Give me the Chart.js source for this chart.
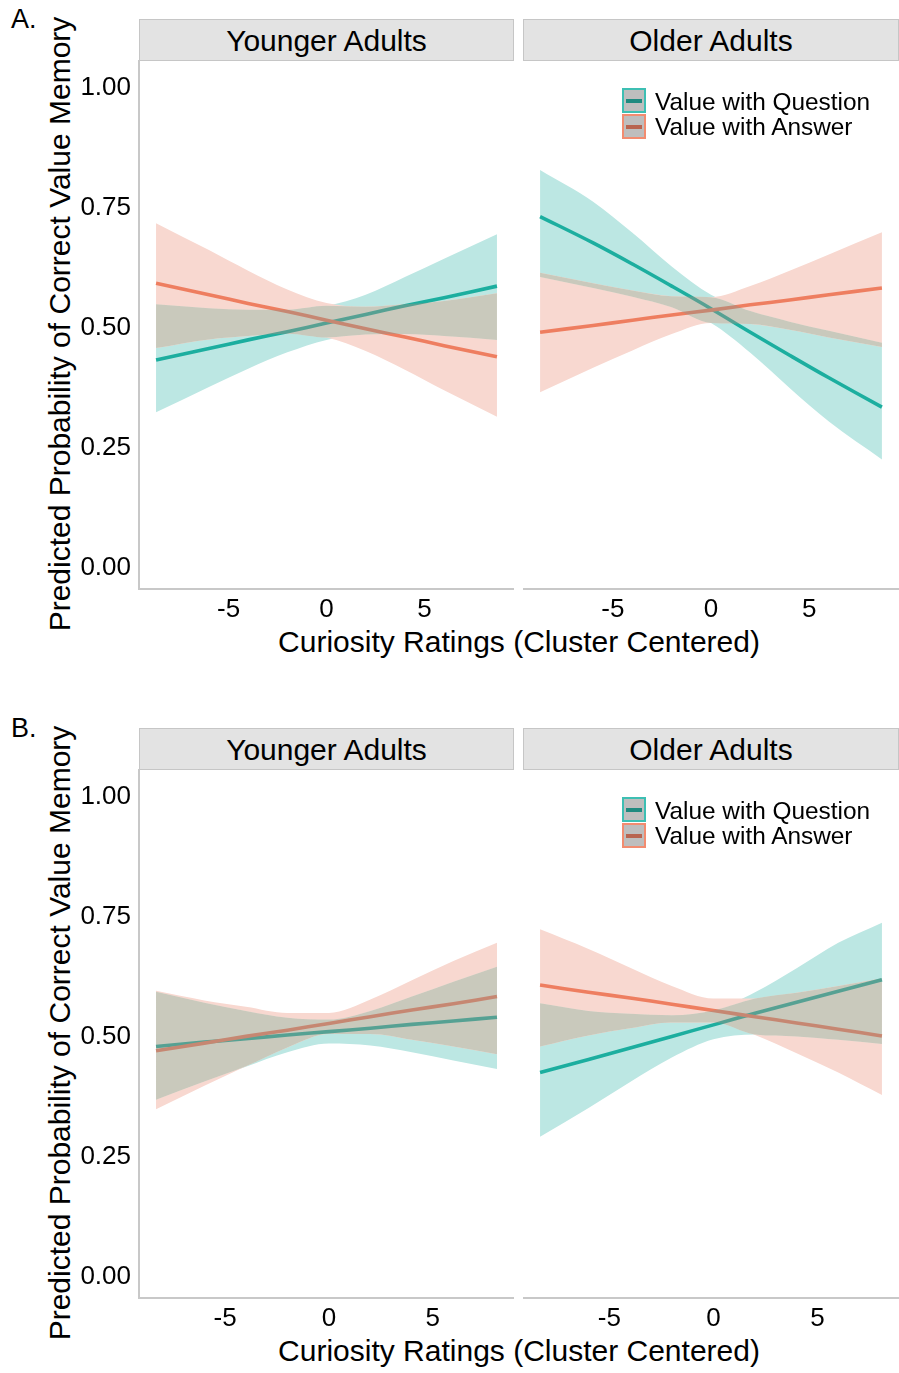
<!DOCTYPE html>
<html>
<head>
<meta charset="utf-8">
<title>Predicted probability of correct value memory by curiosity</title>
<script src="https://cdn.jsdelivr.net/npm/chart.js@4.4.1/dist/chart.umd.min.js"></script>
<style>
  html, body { margin: 0; padding: 0; background: #fff; }
  body { position: relative; width: 899px; height: 1373px; overflow: hidden;
         font-family: 'Liberation Sans', Arial, Helvetica, sans-serif; color: #000; }
  .abs { position: absolute; white-space: nowrap; }
  .letter { font-size: 27px; line-height: 27px; }
  .strip { position: absolute; background: #e3e3e3; border: 1px solid #c6c6c6; box-sizing: border-box; height: 42px; }
  .strip span { position: absolute; left: 0; right: 0; top: 6px; text-align: center; font-size: 30px; line-height: 30px; }
  .ytitle { width: 700px; height: 30px; font-size: 30px; line-height: 30px; text-align: center; transform: rotate(-90deg); }
  .xtitle { width: 760px; font-size: 30px; line-height: 30px; text-align: center; }
  .key { position: absolute; width: 24px; height: 25px; box-sizing: border-box; background: #bebebe; border: 2px solid; }
  .key i { position: absolute; left: 2px; right: 2px; top: 8.5px; height: 4px; }
  .ltext { font-size: 24.4px; line-height: 24px; }
  canvas { position: absolute; }
</style>
</head>
<body>

<!-- panel A -->
<div class="abs letter" style="left:11px;top:6px;">A.</div>
<div class="strip" style="left:139px;top:19px;width:375px;"><span>Younger Adults</span></div>
<div class="strip" style="left:523px;top:19px;width:376px;"><span>Older Adults</span></div>
<div class="abs ytitle" style="left:-290px;top:309px;">Predicted Probability of Correct Value Memory</div>
<div class="abs xtitle" style="left:139px;top:627px;">Curiosity Ratings (Cluster Centered)</div>
<canvas id="youngA" width="514" height="588" style="left:0;top:41px;"></canvas>
<canvas id="olderA" width="376" height="588" style="left:523px;top:41px;"></canvas>
<div class="key" style="left:622px;top:88px;border-color:#3dbfb3;"><i style="background:#1f8a80;"></i></div>
<div class="key" style="left:622px;top:114px;border-color:#f28c70;"><i style="background:#b86450;"></i></div>
<div class="abs ltext" style="left:655px;top:90px;">Value with Question</div>
<div class="abs ltext" style="left:655px;top:115px;">Value with Answer</div>

<!-- panel B -->
<div class="abs letter" style="left:11px;top:715px;">B.</div>
<div class="strip" style="left:139px;top:728px;width:375px;"><span>Younger Adults</span></div>
<div class="strip" style="left:523px;top:728px;width:376px;"><span>Older Adults</span></div>
<div class="abs ytitle" style="left:-290px;top:1018px;">Predicted Probability of Correct Value Memory</div>
<div class="abs xtitle" style="left:139px;top:1336px;">Curiosity Ratings (Cluster Centered)</div>
<canvas id="youngB" width="514" height="588" style="left:0;top:750px;"></canvas>
<canvas id="olderB" width="376" height="588" style="left:523px;top:750px;"></canvas>
<div class="key" style="left:622px;top:797px;border-color:#3dbfb3;"><i style="background:#1f8a80;"></i></div>
<div class="key" style="left:622px;top:823px;border-color:#f28c70;"><i style="background:#b86450;"></i></div>
<div class="abs ltext" style="left:655px;top:799px;">Value with Question</div>
<div class="abs ltext" style="left:655px;top:824px;">Value with Answer</div>

<script>
// Curiosity rating grid (cluster centered) at which predictions are given
const curiosityA = [-8.7, -6, -4, -2, 0, 2, 4, 6, 8.7];
const curiosityB = [-8.33, -6, -4, -2, 0, 2, 4, 6, 8.1];

// Axis ticks
const xTicks = [-5, 0, 5];
const yTicks = [0, 0.25, 0.5, 0.75, 1];

// Panel A, younger adults: value with question (Q) and value with answer (A), fit and 95% band
const youngA_Q   = [0.432, 0.456, 0.474, 0.491, 0.509, 0.527, 0.545, 0.562, 0.586];
const youngA_Qlo = [0.323, 0.376, 0.414, 0.448, 0.474, 0.485, 0.486, 0.482, 0.474];
const youngA_Qhi = [0.548, 0.540, 0.537, 0.537, 0.545, 0.568, 0.605, 0.643, 0.694];
const youngA_A   = [0.592, 0.568, 0.550, 0.533, 0.515, 0.497, 0.480, 0.462, 0.439];
const youngA_Alo = [0.457, 0.475, 0.482, 0.487, 0.479, 0.451, 0.412, 0.369, 0.314];
const youngA_Ahi = [0.717, 0.661, 0.618, 0.579, 0.551, 0.543, 0.548, 0.555, 0.571];

// Panel A, older adults
const olderA_Q   = [0.731, 0.676, 0.632, 0.586, 0.539, 0.490, 0.442, 0.395, 0.334];
const olderA_Qlo = [0.605, 0.582, 0.564, 0.542, 0.509, 0.447, 0.374, 0.304, 0.225];
const olderA_Qhi = [0.828, 0.762, 0.697, 0.627, 0.568, 0.534, 0.512, 0.493, 0.468];
const olderA_A   = [0.490, 0.504, 0.515, 0.526, 0.536, 0.547, 0.557, 0.568, 0.582];
const olderA_Alo = [0.365, 0.416, 0.452, 0.486, 0.509, 0.507, 0.495, 0.479, 0.459];
const olderA_Ahi = [0.614, 0.592, 0.577, 0.565, 0.563, 0.586, 0.618, 0.652, 0.698];

// Panel B, younger adults
const youngB_Q   = [0.479, 0.488, 0.495, 0.503, 0.510, 0.517, 0.525, 0.532, 0.540];
const youngB_Qlo = [0.368, 0.406, 0.437, 0.467, 0.485, 0.481, 0.467, 0.450, 0.432];
const youngB_Qhi = [0.593, 0.570, 0.553, 0.539, 0.535, 0.553, 0.583, 0.614, 0.645];
const youngB_A   = [0.470, 0.486, 0.500, 0.513, 0.527, 0.541, 0.555, 0.568, 0.583];
const youngB_Alo = [0.348, 0.397, 0.438, 0.477, 0.505, 0.505, 0.493, 0.479, 0.463];
const youngB_Ahi = [0.595, 0.575, 0.562, 0.549, 0.549, 0.577, 0.617, 0.657, 0.695];

// Panel B, older adults
const olderB_Q   = [0.425, 0.452, 0.476, 0.500, 0.524, 0.548, 0.571, 0.594, 0.618];
const olderB_Qlo = [0.291, 0.351, 0.405, 0.456, 0.494, 0.504, 0.500, 0.493, 0.484];
const olderB_Qhi = [0.569, 0.553, 0.547, 0.544, 0.554, 0.592, 0.642, 0.695, 0.737];
const olderB_A   = [0.607, 0.592, 0.580, 0.567, 0.554, 0.541, 0.528, 0.515, 0.501];
const olderB_Alo = [0.479, 0.502, 0.517, 0.529, 0.529, 0.503, 0.465, 0.425, 0.378];
const olderB_Ahi = [0.723, 0.682, 0.643, 0.605, 0.579, 0.579, 0.591, 0.605, 0.621];

// Colours
const LINE_Q = '#1cae9f';
const LINE_A = '#ee7e60';
const BAND_Q = '#bce7e3';
const BAND_A = '#f8d8d0';
const BAND_BASE = '#f4f9ed';
const BAND_SHARED = 'rgba(152,146,134,0.47)';
const AXIS_LINE = '#c8c8c8';

Chart.defaults.font.family = "'Liberation Sans', Arial, Helvetica, sans-serif";
Chart.defaults.color = '#000';

function facet(canvasId, xs, q, qLo, qHi, a, aLo, aHi, xMin, xMax, showY) {
  const pts = ys => xs.map((x, i) => ({ x: x, y: ys[i] }));
  // region where both confidence bands overlap
  const bothLo = qLo.map((v, i) => Math.max(v, aLo[i]));
  const bothHi = qHi.map((v, i) => Math.min(v, aHi[i]));
  const edge = { borderWidth: 0, borderColor: 'rgba(0,0,0,0)', pointRadius: 0,
                 cubicInterpolationMode: 'monotone', fill: false };
  const fit = { borderWidth: 3.6, pointRadius: 0, tension: 0.35,
                fill: false, borderCapStyle: 'butt', borderJoinStyle: 'round' };
  const datasets = [
    { ...edge, label: 'qLo', data: pts(qLo) },
    { ...edge, label: 'qHi', data: pts(qHi), fill: '-1', backgroundColor: BAND_Q },
    { ...edge, label: 'aLo', data: pts(aLo) },
    { ...edge, label: 'aHi', data: pts(aHi), fill: '-1', backgroundColor: BAND_A },
    { ...edge, label: 'bothLo', data: pts(bothLo) },
    { ...edge, label: 'bothHi', data: pts(bothHi), fill: '-1', backgroundColor: BAND_BASE },
    { ...fit, label: 'Value with Question', data: pts(q), borderColor: LINE_Q },
    { ...fit, label: 'Value with Answer', data: pts(a), borderColor: LINE_A },
    { ...edge, label: 'sharedLo', data: pts(bothLo) },
    { ...edge, label: 'sharedHi', data: pts(bothHi), fill: '-1', backgroundColor: BAND_SHARED }
  ];
  // earlier entries are painted first
  datasets.forEach((d, i) => { d.order = 100 - i; });

  return new Chart(document.getElementById(canvasId), {
    type: 'line',
    data: { datasets: datasets },
    options: {
      responsive: false,
      animation: false,
      devicePixelRatio: 1,
      events: [],
      layout: { padding: { top: 20, left: 0, right: 0, bottom: 0 } },
      plugins: { legend: { display: false }, tooltip: { enabled: false } },
      scales: {
        x: {
          type: 'linear', min: xMin, max: xMax,
          grid: { display: false, drawTicks: false },
          border: { display: true, color: AXIS_LINE, width: 2 },
          ticks: { padding: 5, font: { size: 26 }, color: '#000',
                   callback: v => String(v) },
          afterBuildTicks: s => { s.ticks = xTicks.map(v => ({ value: v })); },
          afterFit: s => { s.height = 40; s.paddingLeft = 0; s.paddingRight = 0; }
        },
        y: {
          type: 'linear', min: -0.045, max: 1.055, display: showY,
          grid: { display: false, drawTicks: false },
          border: { display: showY, color: AXIS_LINE, width: 2 },
          ticks: { display: showY, padding: 8, font: { size: 26 }, color: '#000',
                   callback: v => Number(v).toFixed(2) },
          afterBuildTicks: s => { s.ticks = yTicks.map(v => ({ value: v })); },
          afterFit: s => { s.width = showY ? 139 : 0; s.paddingTop = 0; s.paddingBottom = 0; }
        }
      }
    }
  });
}

facet('youngA', curiosityA, youngA_Q, youngA_Qlo, youngA_Qhi, youngA_A, youngA_Alo, youngA_Ahi, -9.57, 9.57, true);
facet('olderA', curiosityA, olderA_Q, olderA_Qlo, olderA_Qhi, olderA_A, olderA_Alo, olderA_Ahi, -9.57, 9.57, false);
facet('youngB', curiosityB, youngB_Q, youngB_Qlo, youngB_Qhi, youngB_A, youngB_Alo, youngB_Ahi, -9.15, 8.92, true);
facet('olderB', curiosityB, olderB_Q, olderB_Qlo, olderB_Qhi, olderB_A, olderB_Alo, olderB_Ahi, -9.15, 8.92, false);
</script>
</body>
</html>
